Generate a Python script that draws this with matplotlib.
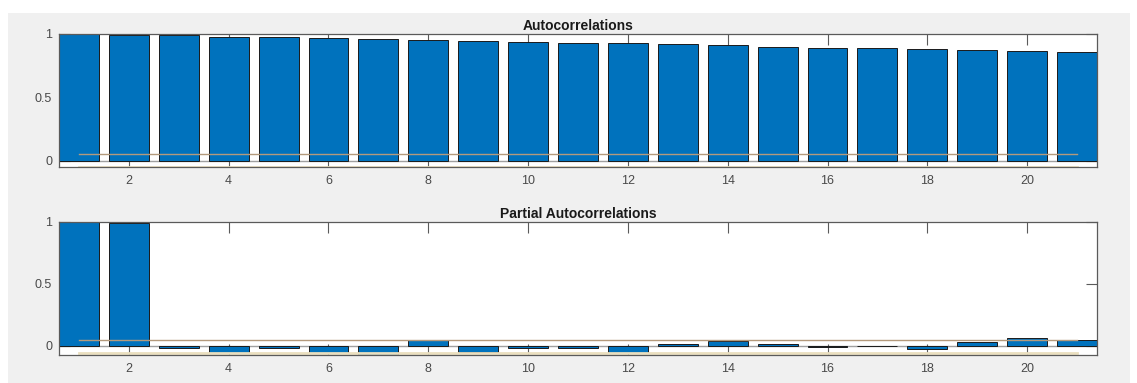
import numpy as np
import matplotlib
matplotlib.use("Agg")
from matplotlib import pyplot as plt
from matplotlib.patches import Rectangle
from matplotlib.ticker import MultipleLocator as mloc

# Sample autocorrelation and partial autocorrelation values, lags plotted 1..21
lags = list(range(1, 22))
acf = [1.000, 0.995, 0.989, 0.979, 0.974, 0.968, 0.958, 0.953, 0.947, 0.939,
       0.932, 0.926, 0.918, 0.911, 0.900, 0.892, 0.887, 0.882, 0.876, 0.866, 0.861]
pacf = [1.000, 0.995, -0.015, -0.057, -0.015, -0.057, -0.080, 0.046, -0.054, -0.020,
        -0.015, -0.060, 0.016, 0.038, 0.013, -0.008, 0.001, -0.027, 0.030, 0.065, 0.046]

# confidence bounds (upper, lower) for each panel
acf_bounds = [0.050, -0.047]
pacf_bounds = [0.046, -0.058]

titles = ["Autocorrelations", "Partial Autocorrelations"]

plt.rcParams['font.family'] = ['Liberation Sans', 'DejaVu Sans']

BAR = '#0072bd'
TXT = '#4a4a4a'
EDGE = '#5a5a5a'

fig = plt.figure(figsize=(11.37, 3.83), dpi=100, facecolor='white')
W, H = 1137, 383
# grey window background
fig.patches.append(Rectangle((8 / W, 0), 1122 / W, (H - 13) / H,
                             transform=fig.transFigure, facecolor='#f0f0f0',
                             edgecolor='none', zorder=-10))


def panel(rect, vals, bounds, ylim, title):
    l, t, r, b = rect
    ax = fig.add_axes([l / W, 1 - b / H, (r - l) / W, (b - t) / H])
    ax.set_facecolor('white')
    ax.bar(lags, vals, width=0.8, color=BAR, edgecolor='#1a1a1a', linewidth=0.7, zorder=2)
    ax.plot([0.6, 21.4], [0, 0], color='#a0a0a0', linewidth=1, zorder=1)
    ax.plot([1, 21], [bounds[0]] * 2, color='#b49a7c', linewidth=1, zorder=3)
    ax.plot([1, 21], [bounds[1]] * 2, color='#eadfbf', linewidth=2, zorder=3)
    ax.set_xlim(0.6, 21.4)
    ax.set_ylim(*ylim)
    ax.xaxis.set_major_locator(mloc(2))
    ax.set_yticks([0, 0.5, 1])
    ax.set_yticklabels(['0', '0.5', '1'])
    ax.tick_params(direction='in', length=8, width=0.8, color=EDGE,
                   top=True, right=True, labelsize=9, labelcolor=TXT)
    ax.tick_params(axis='x', pad=6)
    ax.tick_params(axis='y', pad=5)
    for s in ax.spines.values():
        s.set_color(EDGE)
        s.set_linewidth(0.9)
        s.set_zorder(4)
    ax.set_title(title, fontsize=10, fontweight='bold', color='#1a1a1a', pad=3)
    return ax


panel((59, 34, 1097, 167), acf, acf_bounds, (-0.05, 1.0), titles[0])
panel((59, 222, 1097, 355), pacf, pacf_bounds, (-0.075, 1.0), titles[1])

fig.savefig("out.png", dpi=100)
